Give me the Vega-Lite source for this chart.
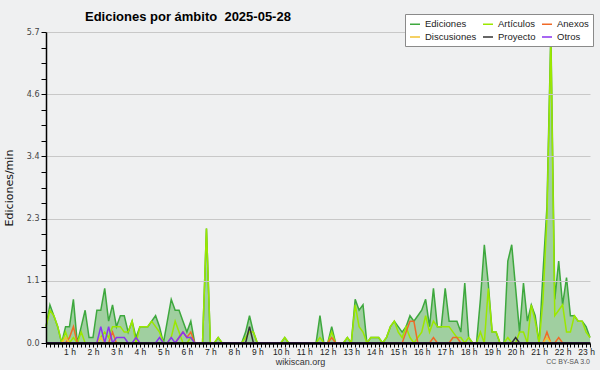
{
"$schema": "https://vega.github.io/schema/vega-lite/v6.json",
"width": 544,
"height": 311,
"autosize": {"type": "none"},
"padding": {"left": 46, "top": 32, "right": 10, "bottom": 27},
"background": "#eff0f1",
"config": {"view": {"stroke": null}, "font": "Liberation Sans", "axis": {"zindex": 1}},
"title": {"text": "Ediciones por ámbito\u00a0 2025-05-28", "anchor": "start", "frame": "group", "dx": 39, "offset": -10, "fontSize": 13, "fontWeight": "bold", "font": "Liberation Sans", "color": "#000000"},
"resolve": {"axis": {"x": "independent"}},
"layer": [
{
"data": {"values": [
{"t":0,"e":0.3,"a":0.3,"x":0,"d":0,"p":0,"o":0},
{"t":0.1667,"e":0.7,"a":0.6,"x":0,"d":0,"p":0,"o":0},
{"t":0.3333,"e":0.5,"a":0.5,"x":0,"d":0,"p":0,"o":0},
{"t":0.5,"e":0.3,"a":0.3,"x":0,"d":0,"p":0,"o":0},
{"t":0.6667,"e":0,"a":0,"x":0,"d":0,"p":0,"o":0},
{"t":0.8333,"e":0.3,"a":0.2,"x":0,"d":0.1,"p":0,"o":0},
{"t":1,"e":0.3,"a":0,"x":0.1,"d":0,"p":0,"o":0},
{"t":1.1667,"e":0.8,"a":0.1,"x":0.3,"d":0,"p":0,"o":0},
{"t":1.3333,"e":0,"a":0,"x":0,"d":0,"p":0,"o":0},
{"t":1.5,"e":0.3,"a":0.2,"x":0,"d":0,"p":0,"o":0},
{"t":1.6667,"e":0.6,"a":0,"x":0,"d":0,"p":0,"o":0},
{"t":1.8333,"e":0.1,"a":0,"x":0,"d":0,"p":0,"o":0},
{"t":2,"e":0.1,"a":0,"x":0,"d":0,"p":0,"o":0},
{"t":2.1667,"e":0.6,"a":0,"x":0,"d":0,"p":0,"o":0},
{"t":2.3333,"e":0.6,"a":0.1,"x":0,"d":0.1,"p":0,"o":0.3},
{"t":2.5,"e":1.0,"a":0.2,"x":0,"d":0,"p":0,"o":0},
{"t":2.6667,"e":0.4,"a":0.1,"x":0,"d":0,"p":0,"o":0.3},
{"t":2.8333,"e":0.7,"a":0.3,"x":0.2,"d":0,"p":0,"o":0},
{"t":3,"e":0.3,"a":0.3,"x":0,"d":0,"p":0,"o":0.1},
{"t":3.1667,"e":0.5,"a":0.3,"x":0,"d":0,"p":0,"o":0.1},
{"t":3.3333,"e":0.5,"a":0.2,"x":0,"d":0,"p":0,"o":0.1},
{"t":3.5,"e":0.2,"a":0.2,"x":0,"d":0,"p":0,"o":0},
{"t":3.6667,"e":0.4,"a":0.4,"x":0,"d":0,"p":0,"o":0},
{"t":3.8333,"e":0.1,"a":0,"x":0,"d":0,"p":0,"o":0.1},
{"t":4,"e":0.3,"a":0.3,"x":0,"d":0,"p":0,"o":0},
{"t":4.1667,"e":0.3,"a":0.3,"x":0,"d":0,"p":0,"o":0},
{"t":4.3333,"e":0.3,"a":0.3,"x":0,"d":0,"p":0,"o":0},
{"t":4.5,"e":0.4,"a":0.4,"x":0,"d":0,"p":0,"o":0},
{"t":4.6667,"e":0.5,"a":0.3,"x":0,"d":0,"p":0,"o":0},
{"t":4.8333,"e":0.3,"a":0.2,"x":0,"d":0,"p":0,"o":0.1},
{"t":5,"e":0,"a":0,"x":0,"d":0,"p":0,"o":0},
{"t":5.1667,"e":0.4,"a":0,"x":0,"d":0,"p":0,"o":0},
{"t":5.3333,"e":0.8,"a":0.1,"x":0,"d":0,"p":0,"o":0.1},
{"t":5.5,"e":0.6,"a":0.4,"x":0,"d":0,"p":0,"o":0},
{"t":5.6667,"e":0.6,"a":0.2,"x":0.1,"d":0,"p":0,"o":0.1},
{"t":5.8333,"e":0.4,"a":0,"x":0.2,"d":0,"p":0,"o":0.2},
{"t":6,"e":0.2,"a":0,"x":0.1,"d":0,"p":0,"o":0.1},
{"t":6.1667,"e":0.4,"a":0.1,"x":0.2,"d":0,"p":0,"o":0.1},
{"t":6.3333,"e":0,"a":0,"x":0,"d":0,"p":0,"o":0},
{"t":6.5,"e":0,"a":0,"x":0,"d":0,"p":0,"o":0},
{"t":6.6667,"e":0,"a":0,"x":0,"d":0,"p":0,"o":0},
{"t":6.8333,"e":2.1,"a":2.1,"x":0,"d":0,"p":0,"o":0},
{"t":7,"e":0,"a":0,"x":0,"d":0,"p":0,"o":0},
{"t":7.1667,"e":0,"a":0,"x":0,"d":0,"p":0,"o":0},
{"t":7.3333,"e":0.1,"a":0.1,"x":0,"d":0,"p":0,"o":0},
{"t":7.5,"e":0,"a":0,"x":0,"d":0,"p":0,"o":0},
{"t":7.6667,"e":0,"a":0,"x":0,"d":0,"p":0,"o":0},
{"t":7.8333,"e":0,"a":0,"x":0,"d":0,"p":0,"o":0},
{"t":8,"e":0,"a":0,"x":0,"d":0,"p":0,"o":0},
{"t":8.1667,"e":0,"a":0,"x":0,"d":0,"p":0,"o":0},
{"t":8.3333,"e":0,"a":0,"x":0,"d":0,"p":0,"o":0},
{"t":8.5,"e":0.2,"a":0.1,"x":0,"d":0,"p":0,"o":0},
{"t":8.6667,"e":0.5,"a":0.2,"x":0,"d":0,"p":0.3,"o":0},
{"t":8.8333,"e":0.2,"a":0.2,"x":0,"d":0,"p":0,"o":0},
{"t":9,"e":0,"a":0,"x":0,"d":0,"p":0,"o":0},
{"t":9.1667,"e":0,"a":0,"x":0,"d":0,"p":0,"o":0},
{"t":9.3333,"e":0,"a":0,"x":0,"d":0,"p":0,"o":0},
{"t":9.5,"e":0,"a":0,"x":0,"d":0,"p":0,"o":0},
{"t":9.6667,"e":0,"a":0,"x":0,"d":0,"p":0,"o":0},
{"t":9.8333,"e":0,"a":0,"x":0,"d":0,"p":0,"o":0},
{"t":10,"e":0,"a":0,"x":0,"d":0,"p":0,"o":0},
{"t":10.1667,"e":0.1,"a":0.1,"x":0,"d":0,"p":0,"o":0},
{"t":10.3333,"e":0,"a":0,"x":0,"d":0,"p":0,"o":0},
{"t":10.5,"e":0,"a":0,"x":0,"d":0,"p":0,"o":0},
{"t":10.6667,"e":0,"a":0,"x":0,"d":0,"p":0,"o":0},
{"t":10.8333,"e":0,"a":0,"x":0,"d":0,"p":0,"o":0},
{"t":11,"e":0,"a":0,"x":0,"d":0,"p":0,"o":0},
{"t":11.1667,"e":0,"a":0,"x":0,"d":0,"p":0,"o":0},
{"t":11.3333,"e":0,"a":0,"x":0,"d":0,"p":0,"o":0},
{"t":11.5,"e":0,"a":0,"x":0,"d":0,"p":0,"o":0},
{"t":11.6667,"e":0.5,"a":0.1,"x":0,"d":0,"p":0,"o":0},
{"t":11.8333,"e":0,"a":0,"x":0,"d":0,"p":0,"o":0},
{"t":12,"e":0,"a":0,"x":0,"d":0,"p":0,"o":0},
{"t":12.1667,"e":0.3,"a":0.2,"x":0.1,"d":0,"p":0,"o":0},
{"t":12.3333,"e":0,"a":0,"x":0,"d":0,"p":0,"o":0},
{"t":12.5,"e":0,"a":0,"x":0,"d":0,"p":0,"o":0},
{"t":12.6667,"e":0,"a":0,"x":0,"d":0,"p":0,"o":0},
{"t":12.8333,"e":0.1,"a":0.1,"x":0,"d":0,"p":0,"o":0},
{"t":13,"e":0,"a":0,"x":0,"d":0,"p":0,"o":0},
{"t":13.1667,"e":0.8,"a":0.7,"x":0,"d":0,"p":0,"o":0},
{"t":13.3333,"e":0.6,"a":0.3,"x":0,"d":0,"p":0,"o":0},
{"t":13.5,"e":0.7,"a":0.2,"x":0,"d":0,"p":0,"o":0},
{"t":13.6667,"e":0,"a":0,"x":0,"d":0,"p":0,"o":0},
{"t":13.8333,"e":0.1,"a":0.1,"x":0,"d":0,"p":0,"o":0},
{"t":14,"e":0.1,"a":0.1,"x":0,"d":0,"p":0,"o":0},
{"t":14.1667,"e":0.1,"a":0.1,"x":0,"d":0,"p":0,"o":0},
{"t":14.3333,"e":0,"a":0,"x":0,"d":0,"p":0,"o":0},
{"t":14.5,"e":0.1,"a":0.1,"x":0,"d":0,"p":0,"o":0},
{"t":14.6667,"e":0.3,"a":0.3,"x":0,"d":0,"p":0,"o":0},
{"t":14.8333,"e":0.4,"a":0.4,"x":0,"d":0,"p":0,"o":0},
{"t":15,"e":0.3,"a":0.2,"x":0,"d":0,"p":0,"o":0},
{"t":15.1667,"e":0.2,"a":0.1,"x":0,"d":0,"p":0,"o":0},
{"t":15.3333,"e":0.3,"a":0.3,"x":0.2,"d":0,"p":0,"o":0},
{"t":15.5,"e":0.5,"a":0.1,"x":0.4,"d":0,"p":0,"o":0},
{"t":15.6667,"e":0.4,"a":0,"x":0.4,"d":0,"p":0,"o":0},
{"t":15.8333,"e":0.5,"a":0.1,"x":0,"d":0,"p":0,"o":0},
{"t":16,"e":0.6,"a":0.2,"x":0,"d":0,"p":0,"o":0},
{"t":16.1667,"e":0.8,"a":0.5,"x":0,"d":0,"p":0,"o":0},
{"t":16.3333,"e":0.3,"a":0.2,"x":0,"d":0,"p":0,"o":0},
{"t":16.5,"e":1.0,"a":0.4,"x":0.1,"d":0,"p":0,"o":0},
{"t":16.6667,"e":0.3,"a":0.3,"x":0,"d":0,"p":0,"o":0},
{"t":16.8333,"e":0.3,"a":0.3,"x":0,"d":0,"p":0,"o":0},
{"t":17,"e":1.0,"a":0.3,"x":0,"d":0,"p":0,"o":0},
{"t":17.1667,"e":0.4,"a":0.3,"x":0,"d":0,"p":0,"o":0},
{"t":17.3333,"e":0.4,"a":0.2,"x":0.1,"d":0,"p":0,"o":0},
{"t":17.5,"e":0.4,"a":0.1,"x":0.1,"d":0,"p":0,"o":0},
{"t":17.6667,"e":0.2,"a":0.1,"x":0,"d":0,"p":0,"o":0},
{"t":17.8333,"e":1.1,"a":0,"x":0,"d":0,"p":0,"o":0},
{"t":18,"e":0.1,"a":0.1,"x":0,"d":0,"p":0,"o":0},
{"t":18.1667,"e":0,"a":0,"x":0,"d":0,"p":0,"o":0},
{"t":18.3333,"e":0,"a":0,"x":0,"d":0,"p":0,"o":0},
{"t":18.5,"e":0.8,"a":0.2,"x":0,"d":0,"p":0,"o":0},
{"t":18.6667,"e":1.8,"a":0,"x":0,"d":0,"p":0,"o":0},
{"t":18.8333,"e":1.1,"a":1.0,"x":0,"d":0,"p":0,"o":0},
{"t":19,"e":0.2,"a":0.2,"x":0,"d":0,"p":0,"o":0},
{"t":19.1667,"e":0.2,"a":0.2,"x":0,"d":0,"p":0,"o":0},
{"t":19.3333,"e":0,"a":0,"x":0,"d":0,"p":0,"o":0},
{"t":19.5,"e":0,"a":0,"x":0,"d":0,"p":0,"o":0},
{"t":19.6667,"e":1.5,"a":0.1,"x":0,"d":0,"p":0,"o":0},
{"t":19.8333,"e":1.8,"a":0,"x":0,"d":0,"p":0,"o":0},
{"t":20,"e":1.0,"a":0,"x":0,"d":0,"p":0.1,"o":0},
{"t":20.1667,"e":0.2,"a":0.2,"x":0,"d":0,"p":0,"o":0},
{"t":20.3333,"e":1.1,"a":0.2,"x":0,"d":0,"p":0,"o":0},
{"t":20.5,"e":0.4,"a":0,"x":0,"d":0,"p":0,"o":0},
{"t":20.6667,"e":0.7,"a":0.7,"x":0,"d":0,"p":0,"o":0},
{"t":20.8333,"e":0.5,"a":0.4,"x":0,"d":0,"p":0,"o":0},
{"t":21,"e":0,"a":0,"x":0,"d":0,"p":0,"o":0},
{"t":21.1667,"e":1.3,"a":0.8,"x":0,"d":0,"p":0,"o":0},
{"t":21.3333,"e":2.5,"a":2.3,"x":0.2,"d":0.1,"p":0,"o":0},
{"t":21.5,"e":5.7,"a":5.6,"x":0,"d":0,"p":0,"o":0},
{"t":21.6667,"e":0.8,"a":0.5,"x":0,"d":0,"p":0,"o":0},
{"t":21.8333,"e":1.5,"a":0.6,"x":0.1,"d":0,"p":0,"o":0},
{"t":22,"e":0.7,"a":0.7,"x":0,"d":0,"p":0,"o":0},
{"t":22.1667,"e":1.2,"a":0.2,"x":0,"d":0,"p":0,"o":0},
{"t":22.3333,"e":0.5,"a":0.2,"x":0,"d":0,"p":0,"o":0},
{"t":22.5,"e":0.5,"a":0.5,"x":0,"d":0,"p":0,"o":0},
{"t":22.6667,"e":0.4,"a":0.4,"x":0,"d":0,"p":0,"o":0},
{"t":22.8333,"e":0.4,"a":0.4,"x":0,"d":0,"p":0,"o":0},
{"t":23,"e":0.3,"a":0.2,"x":0,"d":0,"p":0,"o":0},
{"t":23.1667,"e":0.1,"a":0.1,"x":0,"d":0,"p":0,"o":0}
]},
"layer": [
{
"mark": {"type": "area", "color": "#a0cfa0", "opacity": 1},
"encoding": {
"x": {"field": "t", "type": "quantitative",
 "scale": {"domain": [0, 23.1667], "nice": false, "zero": false},
 "axis": {
  "orient": "bottom",
  "values": [1,2,3,4,5,6,7,8,9,10,11,12,13,14,15,16,17,18,19,20,21,22,23],
  "tickCount": 300,
  "labelExpr": "datum.value + ' h'",
  "grid": false, "ticks": false,
  "domainColor": "#000000", "domainWidth": 2.5,
  "labelFont": "Liberation Sans", "labelFontSize": 8.5, "labelColor": "#222222", "labelPadding": 4, "labelDx": -3.5,
  "labelOverlap": false, "labelBound": false, "labelFlush": false,
  "title": "wikiscan.org", "titleFont": "Liberation Sans", "titleFontSize": 9, "titleFontWeight": "normal", "titleColor": "#333333",
  "titleX": 254, "titleY": 18, "titleBaseline": "middle", "titleAlign": "center",
  "zindex": 1
 }},
"y": {"field": "e", "type": "quantitative",
 "scale": {"domain": [0, 5.7], "nice": false, "zero": true},
 "axis": {
  "values": [0,0.285,0.57,0.855,1.14,1.425,1.71,1.995,2.28,2.565,2.85,3.135,3.42,3.705,3.99,4.275,4.56,4.845,5.13,5.415,5.7],
  "tickCount": 300,
  "labelExpr": "abs(datum.value/1.14 - round(datum.value/1.14)) < 0.01 ? format(datum.value, '.1f') : ''",
  "grid": true,
  "gridColor": "#c8c8c8", "gridWidth": 1,
  "gridOpacity": {"condition": {"test": "abs(datum.value/1.14 - round(datum.value/1.14)) < 0.01", "value": 1}, "value": 0},
  "domainColor": "#000000", "domainWidth": 1.5,
  "tickColor": "#000000", "tickSize": 5, "tickWidth": 1,
  "labelFont": "DejaVu Sans", "labelFontSize": 8, "labelColor": "#444444", "labelPadding": 2,
  "labelOverlap": false, "labelBound": false, "labelFlush": false,
  "title": "Ediciones/min", "titleFont": "DejaVu Sans", "titleFontSize": 11, "titleFontWeight": "normal", "titleColor": "#111111",
  "titleX": -36.5, "titleY": 155.5, "titleBaseline": "middle", "titleAlign": "center", "titleAngle": -90,
  "zindex": 1
 }}
}
},
{
"transform": [{"fold": ["e", "a", "x", "d", "p", "o"], "as": ["serie", "v"]}],
"mark": {"type": "line", "strokeWidth": 1.5, "strokeJoin": "miter"},
"encoding": {
"x": {"field": "t", "type": "quantitative"},
"y": {"field": "v", "type": "quantitative"},
"color": {"field": "serie", "type": "nominal",
 "scale": {"domain": ["e", "a", "x", "d", "p", "o"], "range": ["#3ea83e", "#9be800", "#f06a28", "#f2c230", "#333333", "#8a35ee"]},
 "legend": {
  "title": null, "orient": "none", "legendX": 359, "legendY": -18,
  "columns": 3, "direction": "horizontal",
  "labelExpr": "datum.label == 'e' ? 'Ediciones' : datum.label == 'a' ? 'Artículos' : datum.label == 'x' ? 'Anexos' : datum.label == 'd' ? 'Discusiones' : datum.label == 'p' ? 'Proyecto' : 'Otros'",
  "symbolType": "stroke", "symbolSize": 100, "symbolStrokeWidth": 1.5,
  "labelFont": "Liberation Sans", "labelFontSize": 9.5, "labelColor": "#222222", "labelOffset": 4,
  "columnPadding": 3, "rowPadding": 2, "padding": 4,
  "fillColor": "#ffffff", "strokeColor": "#8a8a8a", "cornerRadius": 0,
  "zindex": 2
 }}
}
}
]
},
{
"data": {"values": [{"credit": "CC BY-SA 3.0"}]},
"mark": {"type": "text", "align": "right", "baseline": "middle", "fontSize": 7, "color": "#555555", "font": "Liberation Sans"},
"encoding": {
"x": {"datum": 23.1667, "type": "quantitative",
 "axis": {
  "orient": "bottom",
  "values": [0,0.1667,0.3333,0.5,0.6667,0.8333,1,1.1667,1.3333,1.5,1.6667,1.8333,2,2.1667,2.3333,2.5,2.6667,2.8333,3,3.1667,3.3333,3.5,3.6667,3.8333,4,4.1667,4.3333,4.5,4.6667,4.8333,5,5.1667,5.3333,5.5,5.6667,5.8333,6,6.1667,6.3333,6.5,6.6667,6.8333,7,7.1667,7.3333,7.5,7.6667,7.8333,8,8.1667,8.3333,8.5,8.6667,8.8333,9,9.1667,9.3333,9.5,9.6667,9.8333,10,10.1667,10.3333,10.5,10.6667,10.8333,11,11.1667,11.3333,11.5,11.6667,11.8333,12,12.1667,12.3333,12.5,12.6667,12.8333,13,13.1667,13.3333,13.5,13.6667,13.8333,14,14.1667,14.3333,14.5,14.6667,14.8333,15,15.1667,15.3333,15.5,15.6667,15.8333,16,16.1667,16.3333,16.5,16.6667,16.8333,17,17.1667,17.3333,17.5,17.6667,17.8333,18,18.1667,18.3333,18.5,18.6667,18.8333,19,19.1667,19.3333,19.5,19.6667,19.8333,20,20.1667,20.3333,20.5,20.6667,20.8333,21,21.1667,21.3333,21.5,21.6667,21.8333,22,22.1667,22.3333,22.5,22.6667,22.8333,23,23.1667],
  "tickCount": 300,
  "labels": false, "domain": false, "grid": false,
  "ticks": true, "tickColor": "#000000", "tickSize": 4, "tickWidth": 1,
  "title": null, "zindex": 1
 }},
"y": {"datum": -0.35, "type": "quantitative"},
"text": {"field": "credit"}
}
}
]
}
